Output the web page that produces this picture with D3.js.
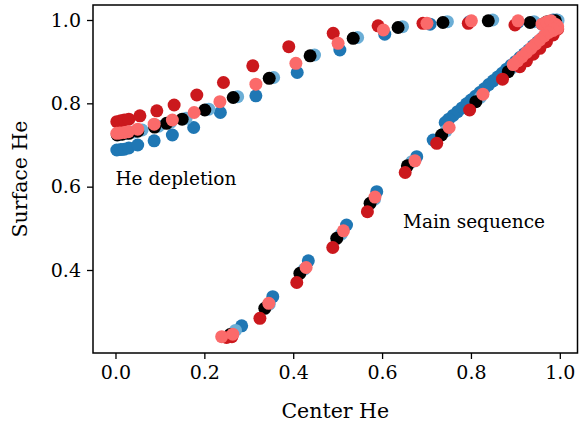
<!DOCTYPE html>
<html>
<head>
<meta charset="utf-8">
<script src="https://cdn.jsdelivr.net/npm/d3@7"></script>
<style>
  body { margin: 0; background: #fff; }
  svg { display: block; }
  text { font-family: "DejaVu Serif", serif; fill: #000; }
</style>
</head>
<body>
<svg id="chart" width="579" height="423"></svg>
<script>
// ---- data (Center He = x, Surface He = y) ----
const darkBlueX = [0.003,0.012,0.020,0.030,0.050,0.087,0.128,0.176,0.236,0.316,0.409,0.505,0.606,0.708,0.797,0.906,
  0.960,0.975,0.985,0.993,0.990,
  0.990,0.980,0.970,0.960,0.950,0.940,0.930,0.920,0.910,0.900,0.890,0.880,0.870,0.860,0.850,0.840,0.830,0.820,0.810,0.800,0.790,0.780,0.770,0.760,0.750,0.742,
  0.715,0.678,0.588,0.520,0.434,0.354,0.284];
const darkBlueY = [0.688,0.689,0.690,0.693,0.700,0.710,0.724,0.742,0.778,0.818,0.874,0.928,0.966,0.990,0.996,0.995,
  0.990,0.995,1.000,1.000,0.990,
  0.985,0.975,0.966,0.956,0.947,0.938,0.928,0.919,0.910,0.900,0.891,0.882,0.872,0.863,0.854,0.845,0.835,0.826,0.817,0.808,0.799,0.789,0.780,0.771,0.762,0.754,
  0.712,0.672,0.588,0.508,0.422,0.336,0.266];

const lightBlueX = [0.010,0.024,0.040,0.060,0.097,0.124,0.159,0.210,0.275,0.356,0.448,0.545,0.646,0.747,0.849,0.942,
  0.978,0.996,
  0.894,0.821,0.744,0.667,0.583,0.508,0.425,0.346,0.270];
const lightBlueY = [0.726,0.728,0.731,0.736,0.745,0.754,0.764,0.786,0.816,0.862,0.916,0.958,0.984,0.996,1.000,0.996,
  0.997,0.999,
  0.886,0.814,0.734,0.660,0.570,0.486,0.402,0.318,0.255];

const blackX = [0.004,0.015,0.030,0.050,0.088,0.115,0.150,0.201,0.265,0.346,0.438,0.535,0.636,0.737,0.839,0.933,
  0.970,0.990,
  0.980,0.950,0.920,0.884,0.811,0.734,0.657,0.573,0.498,0.415,0.336,0.258];
const blackY = [0.724,0.726,0.728,0.733,0.743,0.752,0.762,0.784,0.814,0.860,0.914,0.956,0.982,0.994,0.998,0.994,
  0.995,0.998,
  0.975,0.940,0.910,0.876,0.804,0.724,0.650,0.560,0.476,0.392,0.308,0.245];

const redX = [0.003,0.012,0.020,0.030,0.055,0.093,0.132,0.183,0.243,0.309,0.390,0.490,0.591,0.692,0.794,0.899,
  0.970,0.990,
  0.995,0.985,0.970,0.955,0.940,0.925,0.910,
  0.871,0.797,0.723,0.652,0.567,0.489,0.408,0.325,0.250,0.262];
const redY = [0.756,0.758,0.760,0.762,0.770,0.782,0.796,0.820,0.850,0.890,0.936,0.968,0.986,0.992,0.992,0.988,
  0.990,0.985,
  0.978,0.964,0.948,0.932,0.918,0.902,0.888,
  0.858,0.784,0.704,0.634,0.540,0.454,0.370,0.284,0.238,0.240];

const pinkX = [0.003,0.010,0.020,0.029,0.050,0.087,0.128,0.177,0.235,0.316,0.406,0.501,0.603,0.701,0.801,0.906,
  0.960,0.970,0.980,0.990,0.995,0.985,
  0.995,0.985,0.975,0.965,0.955,0.945,0.935,0.925,0.915,0.905,0.895,
  0.827,0.751,0.674,0.584,0.513,0.429,0.345,0.264,0.239];
const pinkY = [0.728,0.729,0.730,0.732,0.738,0.750,0.760,0.778,0.804,0.846,0.896,0.944,0.976,0.992,0.998,0.998,
  0.990,0.995,0.998,0.990,0.980,0.975,
  0.985,0.978,0.970,0.962,0.952,0.942,0.932,0.922,0.912,0.902,0.893,
  0.822,0.742,0.662,0.575,0.494,0.406,0.320,0.246,0.240];

const xTicks = [0.0, 0.2, 0.4, 0.6, 0.8, 1.0];
const yTicks = [0.4, 0.6, 0.8, 1.0];

const series = [
  {name: "darkBlue", color: "#1f77b4", xs: darkBlueX, ys: darkBlueY},
  {name: "lightBlue", color: "#6baed6", xs: lightBlueX, ys: lightBlueY},
  {name: "black", color: "#000000", xs: blackX, ys: blackY},
  {name: "red", color: "#cb181d", xs: redX, ys: redY},
  {name: "pink", color: "#fb6a6a", xs: pinkX, ys: pinkY}
];

// ---- layout ----
const margin = {left: 93, right: 1.5, top: 5, bottom: 70};
const W = 579, H = 423;
const svg = d3.select("#chart");

const x = d3.scaleLinear().domain([-0.0506, 1.0398]).range([margin.left, W - margin.right]);
const y = d3.scaleLinear().domain([0.2008, 1.036]).range([H - margin.bottom, margin.top]);

// points
series.forEach(s => {
  svg.append("g").selectAll("circle")
    .data(s.xs.map((v, i) => [v, s.ys[i]]))
    .join("circle")
    .attr("cx", d => x(d[0]))
    .attr("cy", d => y(d[1]))
    .attr("r", 6.5)
    .attr("fill", s.color);
});

// axes
const xAxis = d3.axisBottom(x).tickValues(xTicks).tickFormat(d3.format(".1f")).tickSize(6).tickPadding(7);
const yAxis = d3.axisLeft(y).tickValues(yTicks).tickFormat(d3.format(".1f")).tickSize(6).tickPadding(6);

const gx = svg.append("g").attr("transform", `translate(0,${H - margin.bottom})`).call(xAxis);
const gy = svg.append("g").attr("transform", `translate(${margin.left},0)`).call(yAxis);
[gx, gy].forEach(g => {
  g.select(".domain").remove();
  g.selectAll(".tick line").attr("stroke", "#000").attr("stroke-width", 1.3);
  g.selectAll(".tick text").style("font-family", "DejaVu Serif").style("font-size", "19px").attr("fill", "#000");
});

// frame
svg.append("rect")
  .attr("x", margin.left).attr("y", margin.top)
  .attr("width", W - margin.right - margin.left)
  .attr("height", H - margin.bottom - margin.top)
  .attr("fill", "none").attr("stroke", "#000").attr("stroke-width", 1.5);

// labels
svg.append("text").attr("x", (margin.left + W - margin.right) / 2).attr("y", 418)
  .attr("text-anchor", "middle").style("font-size", "20.5px").text("Center He");
svg.append("text")
  .attr("transform", `translate(27,${(margin.top + H - margin.bottom) / 2}) rotate(-90)`)
  .attr("text-anchor", "middle").style("font-size", "20.5px").text("Surface He");

// annotations
svg.append("text").attr("x", x(0.0)).attr("y", y(0.605)).style("font-size", "18.5px").text("He depletion");
svg.append("text").attr("x", x(0.647)).attr("y", y(0.5)).style("font-size", "18.5px").text("Main sequence");
</script>
</body>
</html>
